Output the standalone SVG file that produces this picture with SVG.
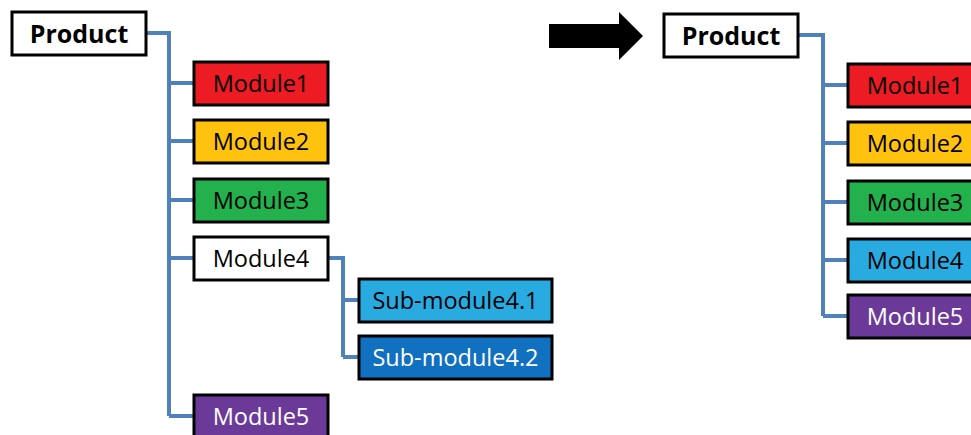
<svg xmlns="http://www.w3.org/2000/svg" width="971" height="435" viewBox="0 0 971 435">
<style>
.box{stroke:#000;stroke-width:3}
.t{font-family:"Open Sans","Liberation Sans",sans-serif;font-size:23.5px;text-anchor:middle;fill:#000}
.b{font-weight:bold;font-size:25px}
.w{fill:#fff}
.conn{fill:none;stroke:#4F81BD;stroke-width:4;stroke-linejoin:miter}
</style>
<rect width="971" height="435" fill="#fff"/>
<g id="connectors">
<path class="conn" d="M146,33 H169 V416 M169,83 H194 M169,141 H194 M169,200 H194 M169,258 H194 M169,416 H194"/>
<path class="conn" d="M328,258 H343 V357 M343,300 H359 M343,357 H359"/>
<path class="conn" d="M798,35 H823 V316 M823,85 H848 M823,143 H848 M823,202 H848 M823,260 H848 M823,316 H848"/>
</g>
<g id="left-product"><rect class="box" x="12" y="12" width="134" height="43" fill="#fff"/><text class="t b" x="79" y="43">Product</text></g>
<g id="left-module1"><rect class="box" x="194" y="62" width="134" height="43" fill="#ED1C24"/><text class="t" x="261" y="92">Module1</text></g>
<g id="left-module2"><rect class="box" x="194" y="120" width="134" height="43" fill="#FFC20E"/><text class="t" x="261" y="150">Module2</text></g>
<g id="left-module3"><rect class="box" x="194" y="179" width="134" height="43" fill="#22B14C"/><text class="t" x="261" y="209">Module3</text></g>
<g id="left-module4"><rect class="box" x="194" y="237" width="134" height="43" fill="#fff"/><text class="t" x="261" y="267">Module4</text></g>
<g id="left-sub41"><rect class="box" x="359" y="279" width="193" height="43" fill="#29ABE2"/><text class="t" x="455.5" y="309">Sub-module4.1</text></g>
<g id="left-sub42"><rect class="box" x="359" y="336" width="193" height="43" fill="#1170BF"/><text class="t w" x="455.5" y="366">Sub-module4.2</text></g>
<g id="left-module5"><rect class="box" x="194" y="395" width="134" height="43" fill="#6B3A98"/><text class="t w" x="261" y="425">Module5</text></g>
<g id="arrow"><polygon points="549,24 619,24 619,12 643,36 619,60 619,48 549,48" fill="#000"/></g>
<g id="right-product"><rect class="box" x="664" y="14" width="134" height="43" fill="#fff"/><text class="t b" x="731" y="45">Product</text></g>
<g id="right-module1"><rect class="box" x="848" y="64" width="134" height="43" fill="#ED1C24"/><text class="t" x="915" y="94">Module1</text></g>
<g id="right-module2"><rect class="box" x="848" y="122" width="134" height="43" fill="#FFC20E"/><text class="t" x="915" y="152">Module2</text></g>
<g id="right-module3"><rect class="box" x="848" y="181" width="134" height="43" fill="#22B14C"/><text class="t" x="915" y="211">Module3</text></g>
<g id="right-module4"><rect class="box" x="848" y="239" width="134" height="43" fill="#29ABE2"/><text class="t" x="915" y="269">Module4</text></g>
<g id="right-module5"><rect class="box" x="848" y="295" width="134" height="43" fill="#6B3A98"/><text class="t w" x="915" y="325">Module5</text></g>
</svg>
